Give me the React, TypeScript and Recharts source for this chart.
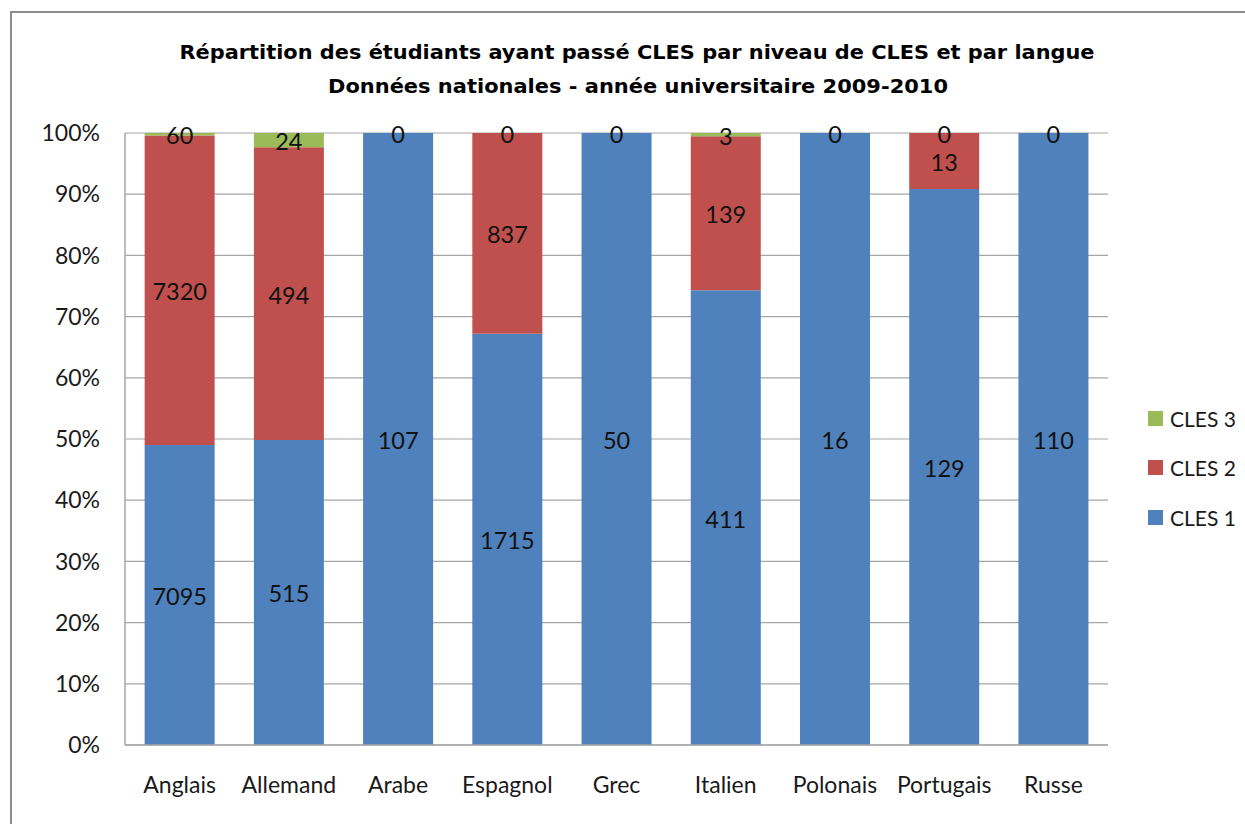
import { BarChart, Bar, XAxis, YAxis, CartesianGrid, LabelList, Cell } from "recharts";

const languages = ["Anglais", "Allemand", "Arabe", "Espagnol", "Grec", "Italien", "Polonais", "Portugais", "Russe"];
const cles1 = [7095, 515, 107, 1715, 50, 411, 16, 129, 110];
const cles2 = [7320, 494, 0, 837, 0, 139, 0, 13, 0];
const cles3 = [60, 24, 0, 0, 0, 3, 0, 0, 0];
const yTicks = [0, 0.1, 0.2, 0.3, 0.4, 0.5, 0.6, 0.7, 0.8, 0.9, 1];

const data = languages.map((name, i) => ({
  name,
  cles1: cles1[i],
  cles2: cles2[i],
  cles3: cles3[i],
}));

const legendItems = [
  { name: "CLES 3", color: "#9BBB59" },
  { name: "CLES 2", color: "#C0504D" },
  { name: "CLES 1", color: "#4F81BD" },
];

const axisFont = "Lato, 'Open Sans', sans-serif";

// label drawn at middle of the segment; hideZero skips empty segments
const makeLabel = (hideZero: boolean) => (props: any) => {
  const { x, y, width, height, value } = props;
  if (hideZero && !value) return null;
  return (
    <text
      x={x + width / 2}
      y={y + height / 2 + 1}
      textAnchor="middle"
      dominantBaseline="central"
      fill="#111"
      fontSize={23.5}
      fontFamily={axisFont}
    >
      {value}
    </text>
  );
};

export default function App() {
  return (
    <div style={{ position: "absolute", left: 0, top: 0, width: 1245, height: 824, background: "#fff" }}>
      <svg width={1245} height={824} style={{ position: "absolute", left: 0, top: 0 }}>
        <rect x={11} y={12} width={1260} height={840} fill="none" stroke="#8c8c8c" strokeWidth={2} />
        <text
          x={637}
          y={52}
          textAnchor="middle"
          dominantBaseline="central"
          fontFamily="'Comic Sans MS', 'DejaVu Sans', sans-serif"
          fontWeight="bold"
          fontSize={20}
          textLength={915}
          lengthAdjust="spacingAndGlyphs"
        >
          Répartition des étudiants ayant passé CLES par niveau de CLES et par langue
        </text>
        <text
          x={638}
          y={86}
          textAnchor="middle"
          dominantBaseline="central"
          fontFamily="'Comic Sans MS', 'DejaVu Sans', sans-serif"
          fontWeight="bold"
          fontSize={20}
          textLength={620}
          lengthAdjust="spacingAndGlyphs"
        >
          Données nationales -  année universitaire 2009-2010
        </text>
      </svg>
      <div style={{ position: "absolute", left: 0, top: 0 }}>
        <BarChart
          width={1245}
          height={824}
          data={data}
          stackOffset="expand"
          barCategoryGap="18%"
          margin={{ top: 133, right: 137, bottom: 39, left: 15 }}
        >
          <CartesianGrid vertical={false} stroke="#a6a6a6" strokeWidth={1.2} />
          <XAxis
            dataKey="name"
            height={40}
            tickLine={false}
            tickSize={0}
            tickMargin={32}
            axisLine={{ stroke: "#a6a6a6", strokeWidth: 1.5 }}
            tick={{ fill: "#1a1a1a", fontSize: 23, fontFamily: axisFont }}
            interval={0}
          />
          <YAxis
            width={110}
            domain={[0, 1]}
            ticks={yTicks}
            tickFormatter={(v: number) => `${Math.round(v * 100)}%`}
            tickLine={false}
            tickSize={0}
            tickMargin={25}
            axisLine={{ stroke: "#a6a6a6", strokeWidth: 1.5 }}
            tick={{ fill: "#1a1a1a", fontSize: 23, fontFamily: axisFont }}
          />
          <Bar dataKey="cles1" stackId="a" fill="#4F81BD" isAnimationActive={false}>
            <LabelList dataKey="cles1" content={makeLabel(false)} />
          </Bar>
          <Bar dataKey="cles2" stackId="a" fill="#C0504D" isAnimationActive={false}>
            <LabelList dataKey="cles2" content={makeLabel(true)} />
          </Bar>
          <Bar dataKey="cles3" stackId="a" fill="#9BBB59" minPointSize={1} isAnimationActive={false}>
            {data.map((d) => (
              <Cell key={d.name} fill={d.cles3 ? "#9BBB59" : "transparent"} />
            ))}
            <LabelList dataKey="cles3" content={makeLabel(false)} />
          </Bar>
        </BarChart>
      </div>
      {legendItems.map((item, i) => (
        <div
          key={item.name}
          style={{
            position: "absolute",
            left: 1148,
            top: 418 + i * 49.5 - 13,
            height: 26,
            display: "flex",
            alignItems: "center",
            fontFamily: axisFont,
            fontSize: 21,
            color: "#1a1a1a",
          }}
        >
          <span style={{ width: 15, height: 15, background: item.color, marginRight: 7 }} />
          {item.name}
        </div>
      ))}
    </div>
  );
}
